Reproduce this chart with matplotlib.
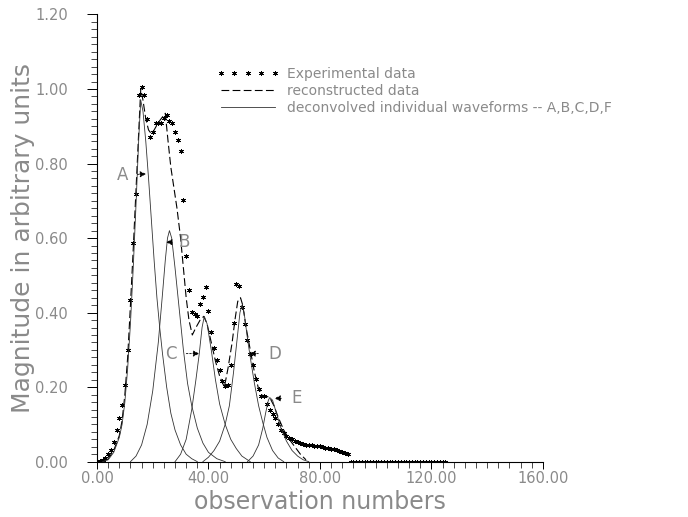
import numpy as np
import matplotlib.pyplot as plt
from matplotlib.ticker import MultipleLocator, FormatStrFormatter

# experimental data, one point per observation number
exp_x = list(range(0, 126))
exp_y = [0.0, 0.001, 0.004, 0.010, 0.020, 0.031, 0.053, 0.085, 0.116, 0.152,
         0.205, 0.300, 0.435, 0.588, 0.718, 0.984, 1.006, 0.984, 0.919, 0.872,
         0.885, 0.908, 0.908, 0.908, 0.922, 0.930, 0.915, 0.908, 0.885, 0.863,
         0.834, 0.702, 0.552, 0.462, 0.402, 0.395, 0.390, 0.422, 0.442, 0.469,
         0.404, 0.348, 0.304, 0.272, 0.247, 0.217, 0.203, 0.205, 0.259, 0.371,
         0.478, 0.471, 0.414, 0.370, 0.326, 0.290, 0.259, 0.222, 0.196, 0.176,
         0.176, 0.156, 0.138, 0.128, 0.116, 0.102, 0.085, 0.076, 0.070, 0.064,
         0.060, 0.055, 0.052, 0.050, 0.048, 0.046, 0.045, 0.044, 0.043, 0.042,
         0.041, 0.040, 0.038, 0.036, 0.035, 0.033, 0.031, 0.029, 0.027, 0.024,
         0.021] + [0.0] * 35

# reconstructed data
rec_x = [0, 2, 4, 6, 8, 9, 10, 11, 12, 13, 14, 15, 15.7, 16.5, 17.5, 18.5, 19.5,
         20.5, 22, 23.5, 24.5, 25.5, 26.5, 27.5, 28.7, 30, 31, 32, 33, 34.2, 35.5,
         37, 38.3, 39.5, 41, 42.5, 44, 45.7, 47, 48.5, 49.5, 50.5, 51.5, 52.3, 53.5,
         55, 56.5, 58, 59.5, 61, 62, 63.5, 65, 67, 69, 71, 73, 75]
rec_y = [0.0, 0.002, 0.008, 0.03, 0.07, 0.11, 0.18, 0.28, 0.42, 0.57, 0.73, 0.89,
         1.0, 0.97, 0.92, 0.89, 0.88, 0.89, 0.91, 0.925, 0.935, 0.86, 0.79, 0.74,
         0.68, 0.60, 0.52, 0.44, 0.38, 0.34, 0.36, 0.38, 0.39, 0.37, 0.32, 0.27,
         0.23, 0.20, 0.25, 0.32, 0.38, 0.43, 0.44, 0.42, 0.36, 0.30, 0.24, 0.195,
         0.175, 0.175, 0.172, 0.15, 0.12, 0.085, 0.06, 0.04, 0.02, 0.005]

# deconvolved individual waveforms
a_x = [2, 4, 6, 8, 9, 10, 11, 12, 13, 14, 15, 15.7, 16.5, 17.5, 18.5, 19.5, 20.5,
       21.5, 22.5, 23.5, 25, 26.5, 28, 30, 32, 34, 36]
a_y = [0.0, 0.005, 0.025, 0.065, 0.1, 0.16, 0.25, 0.37, 0.52, 0.69, 0.87, 0.97,
       0.94, 0.86, 0.76, 0.65, 0.54, 0.44, 0.36, 0.29, 0.2, 0.13, 0.085, 0.045,
       0.02, 0.008, 0.0]
b_x = [12, 14, 16, 18, 20, 22, 23.5, 24.5, 25.3, 26, 26.8, 28, 29.5, 31, 32.5,
       34, 36, 38, 40, 43, 46]
b_y = [0.0, 0.015, 0.045, 0.1, 0.19, 0.32, 0.45, 0.54, 0.6, 0.62, 0.6, 0.52,
       0.41, 0.3, 0.21, 0.15, 0.09, 0.05, 0.025, 0.008, 0.0]
c_x = [28, 30, 32, 34, 35.5, 36.7, 37.7, 38.5, 39.5, 41, 42.5, 44, 46, 48, 50,
       52, 55]
c_y = [0.0, 0.02, 0.06, 0.14, 0.22, 0.29, 0.36, 0.39, 0.37, 0.3, 0.22, 0.155,
       0.1, 0.06, 0.035, 0.015, 0.0]
d_x = [38, 40, 42, 44, 46, 47.5, 49, 50.3, 51.3, 52, 52.8, 54, 55, 56.5, 58,
       59.5, 61, 63, 65, 67]
d_y = [0.0, 0.012, 0.03, 0.055, 0.1, 0.15, 0.24, 0.33, 0.4, 0.42, 0.4, 0.33,
       0.28, 0.21, 0.15, 0.105, 0.065, 0.03, 0.01, 0.0]
e_x = [54, 56, 58, 59.5, 60.5, 61.5, 62, 63, 64, 66, 68, 70, 72, 74, 76]
e_y = [0.0, 0.015, 0.045, 0.09, 0.13, 0.165, 0.172, 0.165, 0.14, 0.09, 0.055,
       0.03, 0.015, 0.005, 0.0]

# peak labels: name, label position, arrow tip
peak_labels = [("A", (9.0, 0.769), (17.6, 0.772)),
               ("B", (31.3, 0.589), (24.8, 0.589)),
               ("C", (26.5, 0.290), (36.7, 0.290)),
               ("D", (63.7, 0.290), (54.7, 0.290)),
               ("E", (71.5, 0.170), (63.7, 0.170))]

grey = "#8a8a8a"

fig = plt.figure(figsize=(6.88, 5.17), dpi=100)
ax = fig.add_axes([0.141, 0.107, 0.648, 0.865])

ax.plot(exp_x, exp_y, ls="none", marker=(6, 2, 0), ms=3.6, mew=0.6,
        color="black", label="Experimental data")
ax.plot(rec_x, rec_y, ls=(0, (7, 3)), lw=0.8, color="black",
        label="reconstructed data")
for i, (wx, wy) in enumerate([(a_x, a_y), (b_x, b_y), (c_x, c_y), (d_x, d_y), (e_x, e_y)]):
    ax.plot(wx, wy, lw=0.6, color="#333333",
            label="deconvolved individual waveforms -- A,B,C,D,F" if i == 0 else None)

for name, txt, tip in peak_labels:
    ax.annotate(name, xy=tip, xytext=txt, fontsize=12, color=grey,
                ha="center", va="center",
                arrowprops=dict(arrowstyle="-|>", lw=0.6, ls=(0, (2, 2)),
                                color="black", shrinkA=5, shrinkB=0,
                                mutation_scale=9))

ax.set_xlim(0, 160)
ax.set_ylim(0, 1.2)
ax.xaxis.set_major_locator(MultipleLocator(40))
ax.xaxis.set_minor_locator(MultipleLocator(4))
ax.yaxis.set_major_locator(MultipleLocator(0.2))
ax.yaxis.set_minor_locator(MultipleLocator(0.02))
ax.xaxis.set_major_formatter(FormatStrFormatter("%.2f"))
ax.yaxis.set_major_formatter(FormatStrFormatter("%.2f"))

for s in ["top", "right"]:
    ax.spines[s].set_visible(False)
for s in ["left", "bottom"]:
    ax.spines[s].set_linewidth(0.8)

ax.tick_params(axis="both", which="major", direction="out", length=7, width=0.7,
               labelsize=10.5, labelcolor=grey)
ax.tick_params(axis="both", which="minor", direction="out", length=4, width=0.5)
ax.tick_params(axis="x", which="major", length=5, pad=2)
ax.tick_params(axis="y", which="major", pad=14)

ax.set_xlabel("observation numbers", fontsize=17, color=grey)
ax.set_ylabel("Magnitude in arbitrary units", fontsize=18, color=grey)
ax.xaxis.set_label_coords(0.5, -0.064)
ax.yaxis.set_label_coords(-0.14, 0.5)

leg = ax.legend(loc="upper left", bbox_to_anchor=(0.24, 0.91), frameon=False,
                numpoints=5, handlelength=4.5, handletextpad=0.6,
                labelspacing=0.2, fontsize=10)
for t in leg.get_texts():
    t.set_color(grey)

fig.savefig("out.png", dpi=100)
